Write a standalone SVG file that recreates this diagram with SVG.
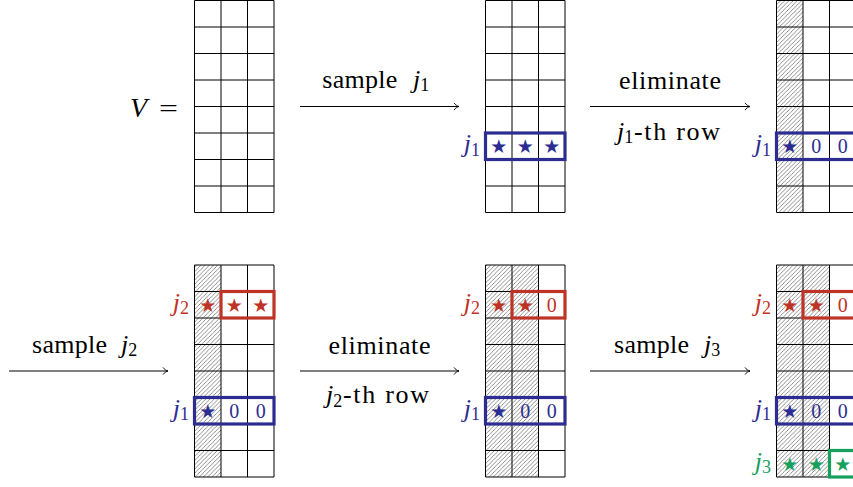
<svg xmlns="http://www.w3.org/2000/svg" xmlns:xlink="http://www.w3.org/1999/xlink" width="853" height="487" viewBox="0 0 853 487">
<style>
.grid{fill:none;stroke:#000;stroke-width:1}
.hatch{fill:url(#hp);stroke:none}
.box{fill:none;stroke-width:3.2}
.bb{stroke:#2d2d91}.rb{stroke:#bf3326}.gb{stroke:#15a05e}
.blue{fill:#2d2d91}.red{fill:#bf3326}.green{fill:#15a05e}
.t{font-family:"Liberation Serif","Times New Roman",serif;font-size:26px;fill:#000}
.mi{font-style:italic}
.sub{font-size:18px;font-style:normal}
.lab{font-family:"Liberation Serif","Times New Roman",serif;font-size:26px;font-style:italic;text-anchor:end}
.st{font-family:"DejaVu Sans",sans-serif;font-size:19px;text-anchor:middle;dominant-baseline:central}
.z{font-family:"Liberation Serif","Times New Roman",serif;font-size:20px;text-anchor:middle}
.arr{stroke:#000;stroke-width:1;fill:none;marker-end:url(#ah)}
</style>
<defs>
<pattern id="hp" patternUnits="userSpaceOnUse" width="4.2" height="4.2">
<path d="M-1,1 L1,-1 M0,4.2 L4.2,0 M3.2,5.2 L5.2,3.2" stroke="#333" stroke-width="0.55"/>
</pattern>
<marker id="ah" viewBox="-6 -5 8 10" markerWidth="8" markerHeight="10" refX="0" refY="0" orient="auto" markerUnits="userSpaceOnUse">
<path d="M-5,-3.6 C-3.8,-1.6 -1.6,-0.5 0,0 C-1.6,0.5 -3.8,1.6 -5,3.6" fill="none" stroke="#000" stroke-width="0.9"/>
</marker>
<path id="gr" class="grid" d="M0 0V212M26.5 0V212M53 0V212M79.5 0V212M0 0H79.5M0 26.5H79.5M0 53H79.5M0 79.5H79.5M0 106H79.5M0 132.5H79.5M0 159H79.5M0 185.5H79.5M0 212H79.5"/>
</defs>

<g id="matrixV">
<text class="t mi" x="130" y="116.7" style="font-size:28px">V</text>
<text class="t" x="159" y="116.7" textLength="19" lengthAdjust="spacingAndGlyphs" style="font-size:26px">=</text>
<use xlink:href="#gr" x="194.5" y="0.5"/>
</g>

<g id="matrixT2">
<use xlink:href="#gr" x="485.5" y="0.5"/>
<rect class="box bb" x="485.5" y="133" width="79.5" height="26.5"/>
<text class="lab blue" x="480" y="152.2">j<tspan class="sub" dy="3.5">1</tspan></text>
<text class="st blue" x="498.75" y="146.25">★</text>
<text class="st blue" x="525.25" y="146.25">★</text>
<text class="st blue" x="551.75" y="146.25">★</text>
</g>

<g id="matrixT3">
<rect class="hatch" x="776.5" y="0.5" width="26.5" height="212"/>
<use xlink:href="#gr" x="776.5" y="0.5"/>
<rect class="box bb" x="776.5" y="133" width="79.5" height="26.5"/>
<text class="lab blue" x="771" y="152.2">j<tspan class="sub" dy="3.5">1</tspan></text>
<text class="st blue" x="789.75" y="146.25">★</text>
<text class="z blue" x="816.25" y="153.2">0</text>
<text class="z blue" x="842.75" y="153.2">0</text>
</g>

<g id="matrixB1">
<rect class="hatch" x="194.5" y="265" width="26.5" height="212"/>
<use xlink:href="#gr" x="194.5" y="265"/>
<rect class="box rb" x="221" y="291.5" width="53" height="26.5"/>
<rect class="box bb" x="194.5" y="397.5" width="79.5" height="26.5"/>
<text class="lab red" x="189" y="310.7">j<tspan class="sub" dy="3.5">2</tspan></text>
<text class="lab blue" x="189" y="416.7">j<tspan class="sub" dy="3.5">1</tspan></text>
<text class="st red" x="207.75" y="304.75">★</text>
<text class="st red" x="234.25" y="304.75">★</text>
<text class="st red" x="260.75" y="304.75">★</text>
<text class="st blue" x="207.75" y="410.75">★</text>
<text class="z blue" x="234.25" y="417.7">0</text>
<text class="z blue" x="260.75" y="417.7">0</text>
</g>

<g id="matrixB2">
<rect class="hatch" x="485.5" y="265" width="53" height="212"/>
<use xlink:href="#gr" x="485.5" y="265"/>
<rect class="box rb" x="512" y="291.5" width="53" height="26.5"/>
<rect class="box bb" x="485.5" y="397.5" width="79.5" height="26.5"/>
<text class="lab red" x="480" y="310.7">j<tspan class="sub" dy="3.5">2</tspan></text>
<text class="lab blue" x="480" y="416.7">j<tspan class="sub" dy="3.5">1</tspan></text>
<text class="st red" x="498.75" y="304.75">★</text>
<text class="st red" x="525.25" y="304.75">★</text>
<text class="z red" x="551.75" y="311.7">0</text>
<text class="st blue" x="498.75" y="410.75">★</text>
<text class="z blue" x="525.25" y="417.7">0</text>
<text class="z blue" x="551.75" y="417.7">0</text>
</g>

<g id="matrixB3">
<rect class="hatch" x="776.5" y="265" width="53" height="212"/>
<use xlink:href="#gr" x="776.5" y="265"/>
<rect class="box rb" x="803" y="291.5" width="53" height="26.5"/>
<rect class="box bb" x="776.5" y="397.5" width="79.5" height="26.5"/>
<rect class="box gb" x="829.5" y="450.5" width="26.5" height="26.5"/>
<text class="lab red" x="771" y="310.7">j<tspan class="sub" dy="3.5">2</tspan></text>
<text class="lab blue" x="771" y="416.7">j<tspan class="sub" dy="3.5">1</tspan></text>
<text class="lab green" x="771" y="469.7">j<tspan class="sub" dy="3.5">3</tspan></text>
<text class="st red" x="789.75" y="304.75">★</text>
<text class="st red" x="816.25" y="304.75">★</text>
<text class="z red" x="842.75" y="311.7">0</text>
<text class="st blue" x="789.75" y="410.75">★</text>
<text class="z blue" x="816.25" y="417.7">0</text>
<text class="z blue" x="842.75" y="417.7">0</text>
<text class="st green" x="789.75" y="463.75">★</text>
<text class="st green" x="816.25" y="463.75">★</text>
<text class="st green" x="842.75" y="463.75">★</text>
</g>

<g id="connectors">
<line class="arr" x1="300" y1="106.5" x2="459" y2="106.5"/>
<line class="arr" x1="590" y1="106.5" x2="750" y2="106.5"/>
<line class="arr" x1="9" y1="371" x2="168" y2="371"/>
<line class="arr" x1="300" y1="371" x2="459" y2="371"/>
<line class="arr" x1="590" y1="371" x2="750" y2="371"/>
</g>

<g id="connector-labels">
<text class="t" x="322.3" y="87.5" textLength="75" lengthAdjust="spacing">sample</text>
<text class="t mi blue" x="413" y="87.5">j<tspan class="sub" dy="3.5">1</tspan></text>

<text class="t" x="670" y="89.3" text-anchor="middle" textLength="102" lengthAdjust="spacing">eliminate</text>
<text class="t mi blue" x="617" y="139.5">j<tspan class="sub" dy="3.5">1</tspan></text>
<text class="t" x="634" y="139.5" textLength="86" lengthAdjust="spacing">-th row</text>

<text class="t" x="32" y="352.5" textLength="75" lengthAdjust="spacing">sample</text>
<text class="t mi red" x="121" y="352.5">j<tspan class="sub" dy="3.5">2</tspan></text>

<text class="t" x="379.5" y="353.8" text-anchor="middle" textLength="102" lengthAdjust="spacing">eliminate</text>
<text class="t mi red" x="326" y="403">j<tspan class="sub" dy="3.5">2</tspan></text>
<text class="t" x="343" y="403" textLength="86" lengthAdjust="spacing">-th row</text>

<text class="t" x="614" y="352.5" textLength="75" lengthAdjust="spacing">sample</text>
<text class="t mi green" x="704" y="352.5">j<tspan class="sub" dy="3.5">3</tspan></text>
</g>
</svg>
